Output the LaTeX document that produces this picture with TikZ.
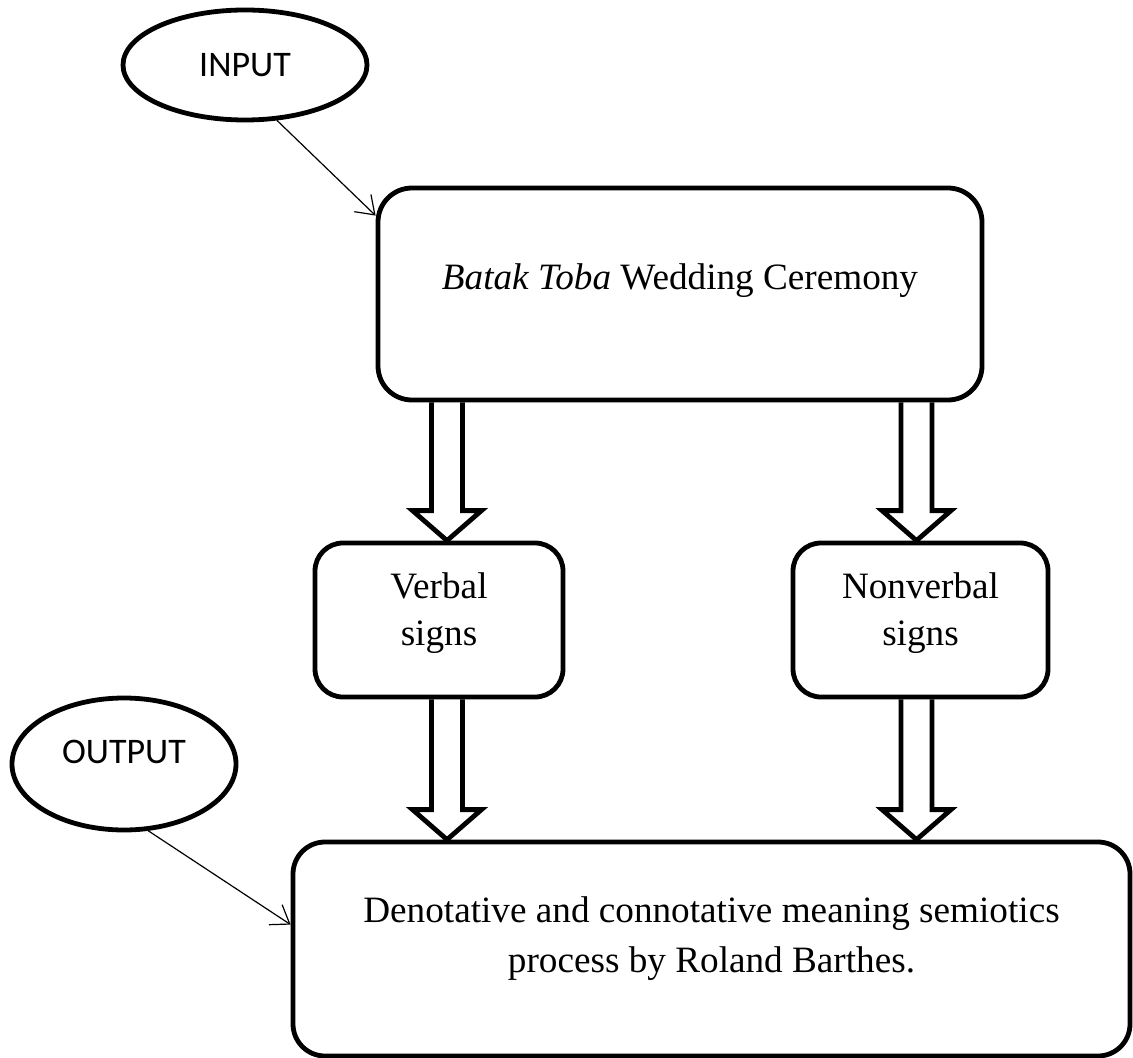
\documentclass[tikz,border=0pt]{standalone}
\usepackage{fontspec}
\setmainfont{Liberation Serif}
\newfontfamily\calibri{Carlito}
\usepackage{tikz}
\usetikzlibrary{shapes.geometric, arrows.meta, calc}
\tikzstyle{stage} = [rectangle, rounded corners=17pt, minimum width=302pt, minimum height=106pt, align=center, draw=black, line width=2.4pt, font=\fontsize{18.6pt}{23.5pt}\selectfont, text height=12.6pt, text depth=16.6pt]
\tikzstyle{signs} = [rectangle, rounded corners=14pt, minimum width=124pt, minimum height=77pt, align=center, draw=black, line width=2.4pt, font=\fontsize{18.6pt}{23.5pt}\selectfont, text height=29pt, text depth=4pt]
\tikzstyle{meaning} = [rectangle, rounded corners=16pt, minimum width=418.5pt, minimum height=107pt, align=center, draw=black, line width=2.4pt, font=\fontsize{18.6pt}{25pt}\selectfont, text height=27pt, text depth=4pt]
\tikzstyle{terminal} = [ellipse, draw=black, line width=2.4pt, inner sep=0pt, font=\calibri\fontsize{18pt}{22pt}\selectfont]
\tikzstyle{arrow} = [line width=0.6pt, -{Straight Barb[length=8.5pt,width=12pt]}]
\tikzstyle{fat} = [line width=2.4pt, draw=black]
\newcommand{\fatarrow}[3]{\draw [fat] let \p1=(#1.south), \p2=(#2.north), \p3=(#3) in (\x3-7.75pt,\y1) -- (\x3-7.75pt,\y2+15pt) -- (\x3-17.25pt,\y2+15pt) -- (\x3,\y2) -- (\x3+17.25pt,\y2+15pt) -- (\x3+7.75pt,\y2+15pt) -- (\x3+7.75pt,\y1);}

\begin{document}
\begin{tikzpicture}[node distance=163pt]
\useasboundingbox (0,0) rectangle (566.5pt,-529pt);

\node (ceremony) [stage] at (340pt,-147pt) {\textit{Batak Toba} Wedding Ceremony};
\node (verbal) [signs, below of=ceremony, xshift=-120.5pt] {Verbal\\signs};
\node (nonverbal) [signs, below of=ceremony, xshift=120.25pt, minimum width=127.5pt] {Nonverbal\\signs};
\node (meaning) [meaning, below of=verbal, xshift=136.25pt, yshift=-1.5pt] {Denotative and connotative meaning semiotics\\process by Roland Barthes.};

\node (input) [terminal, above of=ceremony, xshift=-217.5pt, yshift=-48.5pt, minimum width=122pt, minimum height=55pt] {INPUT};
\node (output) [terminal, left of=meaning, xshift=-130.75pt, yshift=92.5pt, minimum width=112pt, minimum height=66pt, text height=11.5pt, text depth=12pt] {OUTPUT};

\draw [arrow] (input.300) -- ([yshift=-15pt]ceremony.north west);
\draw [arrow] (output.290) -- ([yshift=-42.5pt]meaning.north west);

\fatarrow{ceremony}{verbal}{[xshift=4pt]verbal.north}
\fatarrow{ceremony}{nonverbal}{[xshift=-2pt]nonverbal.north}
\fatarrow{verbal}{meaning}{[xshift=4pt]verbal.south}
\fatarrow{nonverbal}{meaning}{[xshift=-2pt]nonverbal.south}


\end{tikzpicture}
\end{document}
